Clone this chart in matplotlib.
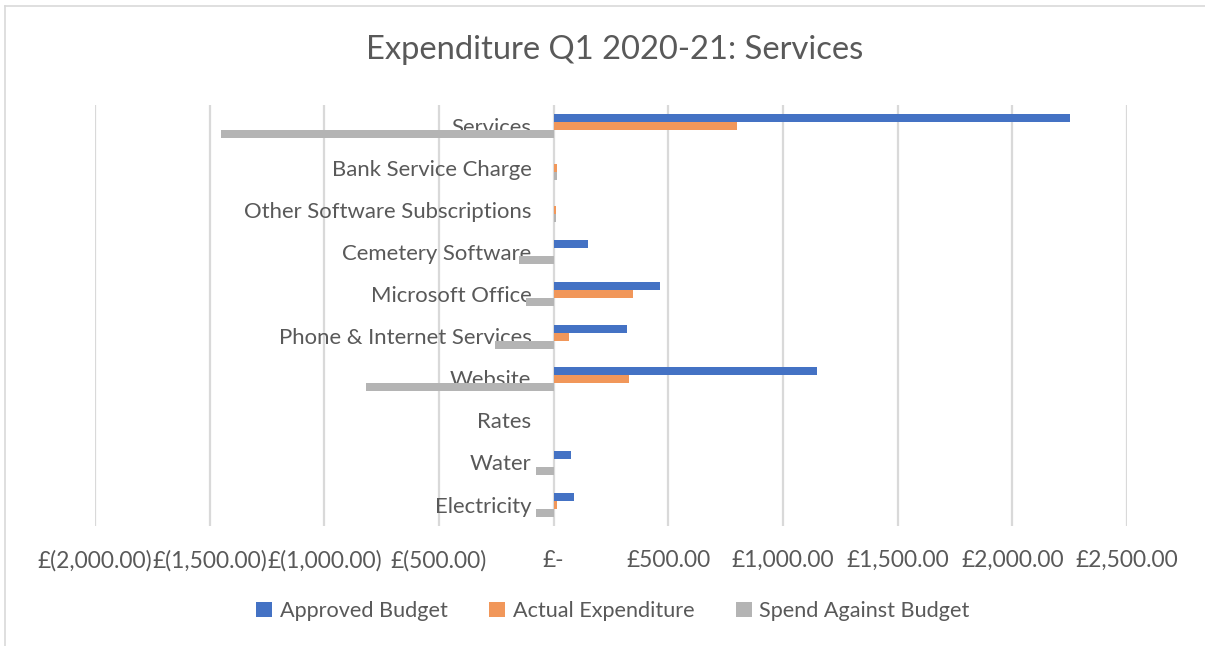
import numpy as np
import matplotlib
matplotlib.use("Agg")
import matplotlib.pyplot as plt
import matplotlib.transforms as mtransforms
from matplotlib.ticker import FuncFormatter, MultipleLocator
from matplotlib.lines import Line2D
from matplotlib.patches import Patch

# Service budget lines, listed top to bottom
categories = ["Services", "Bank Service Charge", "Other Software Subscriptions",
              "Cemetery Software", "Microsoft Office", "Phone & Internet Services",
              "Website", "Rates", "Water", "Electricity"]
approved_budget = [2250, 0, 0, 150, 465, 320, 1150, 0, 75, 90]
actual_expenditure = [800, 15, 10, 0, 345, 65, 330, 0, 0, 15]
spend_against_budget = [-1450, 15, 10, -150, -120, -255, -820, 0, -75, -75]

series_names = ["Approved Budget", "Actual Expenditure", "Spend Against Budget"]
colours = ["#4472C4", "#F1975A", "#B4B4B4"]
text_col = "#595959"

plt.rcParams["font.family"] = ["Lato", "DejaVu Sans"]


def money(v, pos=None):
    if abs(v) < 1e-9:
        return "£-"
    if v < 0:
        return "£({:,.2f})".format(-v)
    return "£{:,.2f}".format(v)


fig = plt.figure(figsize=(12.05, 6.46), dpi=100)
ax = fig.add_axes([95 / 1205, 1 - 526 / 646, (1127 - 95) / 1205, (526 - 105) / 646])

y = np.arange(len(categories))
h = 0.19
for i, vals in enumerate([approved_budget, actual_expenditure, spend_against_budget]):
    ax.barh(y + (i - 1) * h, vals, height=h, color=colours[i], zorder=3)

ax.set_xlim(-2000, 2500)
ax.set_ylim(len(categories) - 0.5, -0.5)
ax.xaxis.set_major_locator(MultipleLocator(500))
ax.xaxis.set_major_formatter(FuncFormatter(money))
ax.grid(axis="x", color="#D9D9D9", linewidth=1.6, zorder=0)
ax.set_axisbelow(True)

# category labels sit against the zero line
ax.spines["left"].set_position(("data", 0))
for s in ax.spines.values():
    s.set_visible(False)
ax.set_yticks(y)
ax.set_yticklabels(categories)
ax.tick_params(axis="y", length=0, pad=16, labelsize=15.9, labelcolor=text_col)
ax.tick_params(axis="x", length=0, pad=17, labelsize=16.4, labelcolor=text_col)
lift = mtransforms.ScaledTranslation(0, 0.3 / 72, fig.dpi_scale_trans)
for lbl in ax.get_yticklabels():
    lbl.set_zorder(4)
    lbl.set_transform(lbl.get_transform() + lift)

fig.text(615 / 1205, 1 - 50 / 646, "Expenditure Q1 2020-21: Services", ha="center", va="center",
         fontsize=23.6, color=text_col)

handles = [Patch(facecolor=c, edgecolor="none") for c in colours]
fig.legend(handles, series_names, loc="center", bbox_to_anchor=(613 / 1205, 1 - 611 / 646),
           ncol=3, frameon=False, fontsize=15.6, labelcolor=text_col, handlelength=0.75,
           handleheight=0.75, handletextpad=0.35, columnspacing=1.9)

# chart area border
fig.add_artist(Line2D([5 / 1205, 1], [1 - 6 / 646, 1 - 6 / 646], color="#D9D9D9", lw=1.2))
fig.add_artist(Line2D([5 / 1205, 5 / 1205], [0, 1 - 6 / 646], color="#D9D9D9", lw=1.2))

fig.savefig("out.png", dpi=100, facecolor="white")
